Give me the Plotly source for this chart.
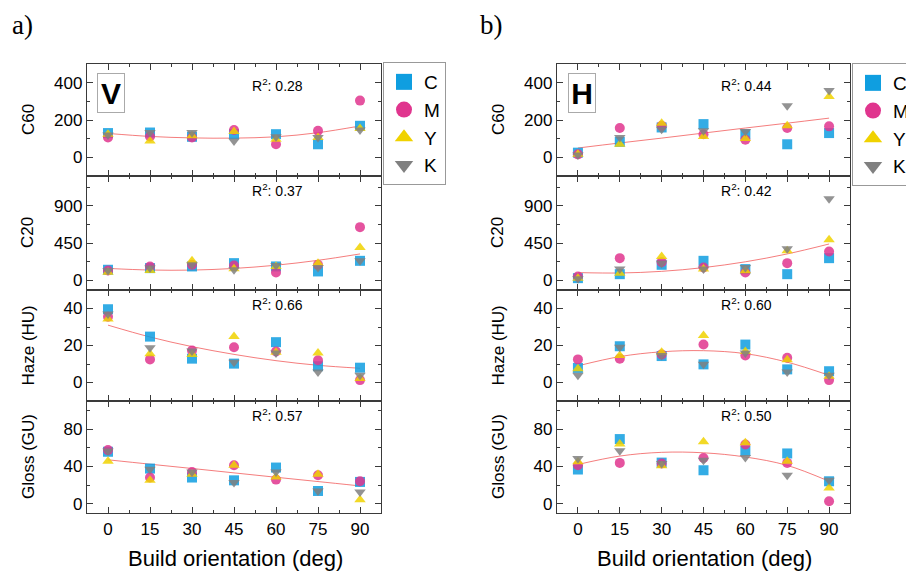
import plotly.graph_objects as go

# ---------------- data ----------------
angles = [0, 15, 30, 45, 60, 75, 90]
inks = ["C", "M", "Y", "K"]
panel_titles = ["C60", "C20", "Haze (HU)", "Gloss (GU)"]
r2_v = ["0.28", "0.37", "0.66", "0.57"]
r2_h = ["0.44", "0.42", "0.60", "0.50"]

# V orientation
v_c60_C = [130, 133, 110, 124, 124, 70, 169]
v_c60_M = [106, 112, 106, 146, 70, 142, 304]
v_c60_Y = [124, 88, 115, 139, 97, 106, 155]
v_c60_K = [119, 133, 133, 88, 110, 106, 146]

v_c20_C = [129, 149, 169, 209, 169, 109, 237]
v_c20_M = [121, 169, 189, 181, 96, 189, 643]
v_c20_Y = [100, 121, 237, 141, 169, 209, 398]
v_c20_K = [121, 149, 189, 129, 181, 157, 237]

v_haze_C = [39.6, 24.8, 12.9, 10.2, 21.8, 8.8, 8.0]
v_haze_M = [35.5, 12.5, 17.3, 19.1, 16.8, 12.0, 1.3]
v_haze_Y = [34.3, 15.5, 15.2, 24.8, 16.4, 15.9, 2.1]
v_haze_K = [37.0, 18.8, 17.0, 11.0, 16.0, 5.7, 3.9]

v_gloss_C = [55.6, 37.6, 28.0, 25.0, 38.7, 13.6, 23.3]
v_gloss_M = [57.4, 28.0, 34.0, 41.2, 25.8, 30.5, 24.0]
v_gloss_Y = [45.5, 25.0, 31.5, 41.2, 28.7, 31.5, 4.3]
v_gloss_K = [56.3, 37.0, 34.0, 22.6, 34.0, 13.6, 12.5]

# H orientation
h_c60_C = [25, 83, 160, 178, 124, 70, 130]
h_c60_M = [16, 157, 169, 124, 94, 157, 166]
h_c60_Y = [16, 70, 182, 112, 101, 169, 326]
h_c60_K = [13, 106, 151, 142, 139, 277, 358]

h_c20_C = [28, 76, 189, 237, 137, 76, 269]
h_c20_M = [48, 269, 221, 157, 96, 209, 350]
h_c20_Y = [28, 88, 289, 137, 117, 358, 490]
h_c20_K = [20, 137, 209, 137, 157, 382, 985]

h_haze_C = [7.9, 19.6, 14.3, 9.8, 20.5, 7.1, 6.1]
h_haze_M = [12.5, 12.9, 15.2, 20.5, 14.6, 13.4, 1.3]
h_haze_Y = [7.5, 14.6, 16.4, 25.4, 16.8, 12.3, 3.4]
h_haze_K = [3.9, 19.1, 14.6, 9.8, 16.0, 5.7, 3.9]

h_gloss_C = [36.6, 69.2, 44.0, 35.8, 56.6, 53.8, 24.0]
h_gloss_M = [41.2, 43.7, 43.0, 49.0, 63.4, 43.7, 2.5]
h_gloss_Y = [44.8, 63.8, 40.5, 66.3, 65.2, 45.5, 16.8]
h_gloss_K = [48.4, 56.6, 43.0, 46.6, 49.5, 30.5, 25.0]

# fitted trend curves
fit_v_c60 = [128, 112, 104, 103, 110, 132, 168]
fit_v_c20 = [145, 126, 125, 145, 184, 243, 320]
fit_v_haze = [31.0, 24.6, 19.4, 15.2, 11.8, 9.3, 7.7]
fit_v_gloss = [47, 42.3, 37.7, 33, 28.3, 23.7, 19]
fit_h_c60 = [50, 77, 103, 130, 157, 183, 210]
fit_h_c20 = [95, 90, 110, 155, 225, 320, 440]
fit_h_haze = [9.0, 14.0, 16.6, 17.2, 15.6, 11.0, 3.9]
fit_h_gloss = [42, 51, 55, 54.5, 50, 41, 24]

# ---------------- styling ----------------
W, H = 906, 576
FONT = "Liberation Sans, Arial, sans-serif"
ink_colors = {"C": "#0f9ee0", "M": "#e0358e", "Y": "#f0d200", "K": "#808080"}
ink_symbols = {"C": "square", "M": "circle", "Y": "triangle-up", "K": "triangle-down"}

col_px = [(87, 381), (557, 850)]
row_px = [(64, 176), (176, 290), (290, 401), (401, 513)]
y_ranges = [[-100, 500], [-115, 1260], [-10, 50], [-10, 110]]
y_dticks = [200, 450, 20, 40]

panels = [
    [[v_c60_C, v_c60_M, v_c60_Y, v_c60_K], [v_c20_C, v_c20_M, v_c20_Y, v_c20_K],
     [v_haze_C, v_haze_M, v_haze_Y, v_haze_K], [v_gloss_C, v_gloss_M, v_gloss_Y, v_gloss_K]],
    [[h_c60_C, h_c60_M, h_c60_Y, h_c60_K], [h_c20_C, h_c20_M, h_c20_Y, h_c20_K],
     [h_haze_C, h_haze_M, h_haze_Y, h_haze_K], [h_gloss_C, h_gloss_M, h_gloss_Y, h_gloss_K]],
]
fits = [[fit_v_c60, fit_v_c20, fit_v_haze, fit_v_gloss],
        [fit_h_c60, fit_h_c20, fit_h_haze, fit_h_gloss]]
r2s = [r2_v, r2_h]


def px_x(p):
    return p / W


def px_y(p):
    return 1 - p / H


fig = go.Figure()
layout = {}
annotations = []

for c in range(2):
    for r in range(4):
        n = c * 4 + r + 1
        xs = "x" if n == 1 else f"x{n}"
        ys = "y" if n == 1 else f"y{n}"
        xk = "xaxis" if n == 1 else f"xaxis{n}"
        yk = "yaxis" if n == 1 else f"yaxis{n}"
        # fit line
        fig.add_trace(go.Scatter(
            x=angles, y=fits[c][r], mode="lines", line=dict(color="rgba(240,70,70,0.7)", width=1, shape="spline"),
            xaxis=xs, yaxis=ys, showlegend=False, hoverinfo="skip"))
        for i, ink in enumerate(inks):
            fig.add_trace(go.Scatter(
                x=angles, y=panels[c][r][i], mode="markers", name=ink,
                marker=dict(symbol=ink_symbols[ink], color=ink_colors[ink], size=10, opacity=0.85,
                            line=dict(width=0)),
                xaxis=xs, yaxis=ys, showlegend=False))
        common = dict(showgrid=False, zeroline=False, showline=True, mirror="ticks",
                      linecolor="#3a3a3a", linewidth=1.3, ticks="inside", ticklen=6,
                      tickwidth=1.2, tickcolor="#3a3a3a",
                      tickfont=dict(family=FONT, size=17, color="black"))
        layout[xk] = dict(common, domain=[px_x(col_px[c][0]), px_x(col_px[c][1])],
                          range=[-7.5, 97.5], anchor=ys, tick0=0, dtick=15,
                          showticklabels=(r == 3),
                          minor=dict(ticks="inside", ticklen=3, dtick=7.5, tick0=0,
                                     tickcolor="#3a3a3a", tickwidth=1.2))
        layout[yk] = dict(common, domain=[px_y(row_px[r][1]), px_y(row_px[r][0])],
                          range=y_ranges[r], anchor=xs, tick0=0, dtick=y_dticks[r],
                          minor=dict(ticks="inside", ticklen=3, dtick=y_dticks[r] / 2, tick0=0,
                                     tickcolor="#3a3a3a", tickwidth=1.2))
        # R2 label
        annotations.append(dict(
            text=f"R<sup>2</sup>: {r2s[c][r]}", xref="paper", yref="paper",
            x=px_x([277, 746][c]), y=px_y([85, 190, 304, 415][r]),
            xanchor="center", yanchor="middle", showarrow=False,
            font=dict(family=FONT, size=14, color="black")))
        # y title
        annotations.append(dict(
            text=panel_titles[r], xref="paper", yref="paper",
            x=px_x([28, 498][c]), y=px_y((row_px[r][0] + row_px[r][1]) / 2),
            xanchor="center", yanchor="middle", textangle=-90, showarrow=False,
            font=dict(family=FONT, size=17, color="black")))

    # x title
    annotations.append(dict(
        text="Build orientation (deg)", xref="paper", yref="paper",
        x=px_x([235, 704][c]), y=px_y(558), xanchor="center", yanchor="middle",
        showarrow=False, font=dict(family=FONT, size=22, color="black")))
    # panel letter
    annotations.append(dict(
        text=["a)", "b)"][c], xref="paper", yref="paper",
        x=px_x([22, 491][c]), y=px_y(25), xanchor="center", yanchor="middle",
        showarrow=False, font=dict(family="Liberation Serif, Times New Roman, serif", size=27, color="black")))
    # orientation box
    annotations.append(dict(
        text=["<b>V</b>", "<b>H</b>"][c], xref="paper", yref="paper",
        x=px_x([111, 582][c]), y=px_y(93.5), xanchor="center", yanchor="middle",
        showarrow=False, width=26, height=38, borderpad=0, borderwidth=1, bordercolor="#aaaaaa",
        bgcolor="white",
        font=dict(family=FONT, size=30, color="black")))

# legend entries
for c, lg in enumerate(["legend", "legend2"]):
    for ink in inks:
        fig.add_trace(go.Scatter(
            x=[None], y=[None], mode="markers", name=ink, legend=lg,
            marker=dict(symbol=ink_symbols[ink], color=ink_colors[ink], size=16),
            showlegend=True, xaxis="x", yaxis="y"))

legend_common = dict(xanchor="left", yanchor="top", bordercolor="#999999", borderwidth=1,
                     bgcolor="white", font=dict(family=FONT, size=19, color="black"),
                     tracegroupgap=0, itemclick=False)
layout["legend"] = dict(legend_common, x=px_x(383), y=px_y(62))
layout["legend2"] = dict(legend_common, x=px_x(852), y=px_y(63))

fig.update_layout(**layout)
fig.update_layout(
    width=W, height=H, margin=dict(l=0, r=0, t=0, b=0, autoexpand=False),
    paper_bgcolor="white", plot_bgcolor="white",
    annotations=annotations, font=dict(family=FONT, color="black"))

fig.write_html("out.html")
